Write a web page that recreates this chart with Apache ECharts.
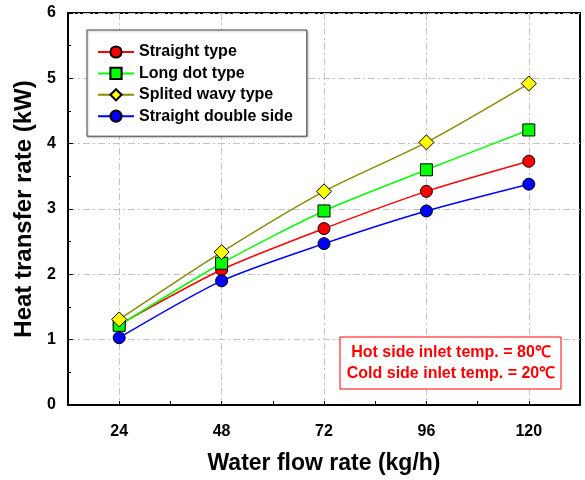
<!DOCTYPE html>
<html>
<head>
<meta charset="utf-8">
<script src="https://cdn.jsdelivr.net/npm/echarts@6/dist/echarts.min.js"></script>
<style>
html, body { margin: 0; padding: 0; background: #fff; }
#main { width: 585px; height: 480px; }
</style>
</head>
<body>
<div id="main"></div>
<script>
// 水流量 (kg/h)
var flowRates = [24, 48, 72, 96, 120];
var xTicks = [24, 48, 72, 96, 120];
var yTicks = [0, 1, 2, 3, 4, 5, 6];

// 换热量 (kW)
var straightType = [1.23, 2.07, 2.70, 3.27, 3.73];
var longDotType = [1.22, 2.17, 2.97, 3.60, 4.21];
var splitedWavyType = [1.31, 2.34, 3.27, 4.02, 4.92];
var straightDoubleSide = [1.03, 1.90, 2.47, 2.97, 3.38];

var noteLines = ['Hot side inlet temp. = 80\u2103', 'Cold side inlet temp. = 20\u2103'];

var font = '"Liberation Sans", Arial, sans-serif';

function pairs(vals) {
    var out = [];
    for (var i = 0; i < flowRates.length; i++) {
        out.push([flowRates[i], vals[i]]);
    }
    return out;
}

function makeSeries(name, vals, symbol, size, fill, line) {
    return {
        name: name,
        type: 'line',
        smooth: 0.25,
        symbol: symbol,
        symbolSize: size,
        data: pairs(vals),
        lineStyle: { color: line, width: 1.5 },
        itemStyle: { color: fill, borderColor: '#000', borderWidth: 1 },
        z: 3
    };
}

var chart = echarts.init(document.getElementById('main'));

chart.setOption({
    animation: false,
    grid: {
        left: 68,
        top: 13,
        right: 5,
        bottom: 75,
        show: true,
        borderColor: '#000',
        borderWidth: 2
    },
    legend: {
        orient: 'vertical',
        left: 87,
        top: 30,
        padding: [14, 14, 12, 10],
        itemGap: 5.4,
        itemWidth: 36,
        itemHeight: 14,
        backgroundColor: '#fff',
        borderColor: '#444',
        borderWidth: 1,
        shadowColor: 'rgba(0,0,0,0.25)',
        shadowBlur: 2,
        shadowOffsetX: 1,
        shadowOffsetY: 1,
        textStyle: { fontFamily: font, fontWeight: 'bold', fontSize: 16, color: '#000' },
        data: ['Straight type', 'Long dot type', 'Splited wavy type', 'Straight double side']
    },
    xAxis: {
        type: 'value',
        min: 12,
        max: 132,
        interval: 12,
        name: 'Water flow rate (kg/h)',
        nameLocation: 'middle',
        nameGap: 47,
        nameTextStyle: { fontFamily: font, fontWeight: 'bold', fontSize: 23, color: '#000' },
        axisLine: { lineStyle: { color: '#000', width: 2 } },
        axisTick: { inside: true, length: 4, lineStyle: { color: '#000', width: 1 } },
        axisLabel: {
            margin: 19,
            fontFamily: font, fontWeight: 'bold', fontSize: 16, color: '#000',
            formatter: function (v) { return xTicks.indexOf(v) >= 0 ? String(v) : ''; }
        },
        splitLine: {
            show: true,
            lineStyle: { color: ['transparent', '#c4c4c4'], width: 1, type: [7, 3, 2, 3] }
        }
    },
    yAxis: {
        type: 'value',
        min: yTicks[0],
        max: yTicks[yTicks.length - 1],
        interval: 1,
        name: 'Heat transfer rate (kW)',
        nameLocation: 'middle',
        nameGap: 30,
        nameTextStyle: { fontFamily: font, fontWeight: 'bold', fontSize: 24, color: '#000' },
        axisLine: { show: true, lineStyle: { color: '#000', width: 2 } },
        axisTick: { show: true, inside: true, length: 5, lineStyle: { color: '#000', width: 1 } },
        minorTick: { show: true, splitNumber: 2, length: 3, lineStyle: { color: '#000', width: 1 } },
        axisLabel: { margin: 12, fontFamily: font, fontWeight: 'bold', fontSize: 16, color: '#000' },
        splitLine: {
            show: true,
            lineStyle: { color: '#c4c4c4', width: 1, type: [7, 3, 2, 3] }
        }
    },
    graphic: [
        {
            type: 'rect',
            x: 340,
            y: 337,
            shape: { width: 221, height: 52 },
            style: { fill: '#fff', stroke: '#ff0000', lineWidth: 1 },
            z: 10
        },
        {
            type: 'text',
            x: 451,
            y: 342,
            style: {
                text: noteLines.join('\n'),
                font: 'bold 16px ' + font,
                fill: '#ff0000',
                align: 'center',
                lineHeight: 21
            },
            z: 11
        }
    ],
    series: [
        makeSeries('Straight type', straightType, 'circle', 12, '#ff0000', '#ff0000'),
        makeSeries('Long dot type', longDotType, 'rect', 12, '#00ff00', '#00ff00'),
        makeSeries('Splited wavy type', splitedWavyType, 'diamond', 15, '#ffff00', '#8b8b00'),
        makeSeries('Straight double side', straightDoubleSide, 'circle', 12, '#0000ff', '#0000ff')
    ]
});

window.onresize = function () {
    chart.resize();
};
</script>
</body>
</html>
